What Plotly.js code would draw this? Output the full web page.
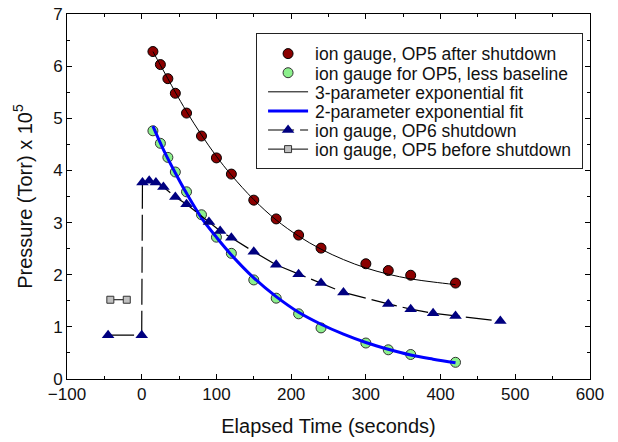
<!DOCTYPE html>
<html>
<head>
<meta charset="utf-8">
<script src="https://cdn.plot.ly/plotly-3.0.1.min.js"></script>
<style>html,body{margin:0;padding:0;background:#fff;}#chart{width:618px;height:442px;}</style>
</head>
<body>
<div id="chart"></div>
<script>
// OP5 after shutdown (ion gauge)
const afterX = [15, 25, 35, 45, 60, 80, 100, 120, 150, 180, 210, 240, 300, 330, 360, 420];
const afterY = [6.28, 6.03, 5.76, 5.48, 5.10, 4.66, 4.24, 3.93, 3.43, 3.07, 2.76, 2.51, 2.21, 2.08, 1.99, 1.84];
// OP5 less baseline
const lessX = [15, 25, 35, 45, 60, 80, 100, 120, 150, 180, 210, 240, 300, 330, 360, 420];
const lessY = [4.76, 4.52, 4.25, 3.97, 3.59, 3.15, 2.72, 2.41, 1.90, 1.55, 1.25, 0.98, 0.69, 0.56, 0.47, 0.32];
// 3-parameter fit curve
const fit3X = [15, 25, 35, 45, 60, 80, 100, 120, 150, 180, 210, 240, 270, 300, 330, 360, 390, 420];
const fit3Y = [6.28, 6.02, 5.76, 5.50, 5.13, 4.68, 4.27, 3.91, 3.44, 3.05, 2.74, 2.49, 2.29, 2.13, 2.01, 1.92, 1.86, 1.81];
// 2-parameter fit curve
const fit2X = [15, 30, 45, 60, 80, 100, 120, 150, 180, 210, 240, 270, 300, 330, 360, 390, 420];
const fit2Y = [4.85, 4.37, 3.95, 3.56, 3.09, 2.72, 2.38, 1.94, 1.58, 1.28, 1.05, 0.86, 0.70, 0.57, 0.46, 0.38, 0.31];
// OP6 shutdown
const op6X = [-45, 0, 1, 10, 19, 29, 45, 60, 90, 105, 120, 150, 180, 210, 240, 270, 330, 360, 390, 420, 480];
const op6Y = [0.84, 0.84, 3.77, 3.80, 3.77, 3.68, 3.49, 3.35, 3.01, 2.84, 2.71, 2.44, 2.19, 2.01, 1.84, 1.66, 1.44, 1.34, 1.26, 1.21, 1.11];
// OP5 before shutdown
const beforeX = [-42, -20];
const beforeY = [1.52, 1.52];

const FONT = 'Liberation Sans, Arial, sans-serif';

const traces = [
  {x: afterX, y: afterY, name: 'ion gauge, OP5 after shutdown', mode: 'markers', type: 'scatter', legendrank: 1,
   marker: {symbol: 'circle', size: 10, color: '#8b0000', line: {color: '#000', width: 1}}},
  {x: lessX, y: lessY, name: 'ion gauge for OP5, less baseline', mode: 'markers', type: 'scatter', legendrank: 2,
   marker: {symbol: 'circle', size: 10, color: '#8cf08c', line: {color: '#333', width: 1}}},
  {x: beforeX, y: beforeY, name: 'ion gauge, OP5 before shutdown', mode: 'lines+markers', type: 'scatter', legendrank: 6,
   line: {color: '#000', width: 1}, marker: {symbol: 'square', size: 7, color: '#c0c0c0', line: {color: '#333', width: 1}}},
  {x: fit3X, y: fit3Y, name: '3-parameter exponential fit', mode: 'lines', type: 'scatter', legendrank: 3,
   line: {color: '#000', width: 1, shape: 'spline'}},
  {x: fit2X, y: fit2Y, name: '2-parameter exponential fit', mode: 'lines', type: 'scatter', legendrank: 4,
   line: {color: '#0000ff', width: 3, shape: 'spline'}},
  {x: op6X, y: op6Y, name: 'ion gauge, OP6 shutdown', mode: 'lines+markers', type: 'scatter', legendrank: 5,
   line: {color: '#000', width: 1.2, dash: '26px,6px'}, marker: {symbol: 'triangle-up', size: 11, color: '#000080'}}
];

const axisCommon = {
  showgrid: false, zeroline: false, showline: true, linecolor: '#000', linewidth: 1,
  mirror: 'ticks', ticks: 'inside', ticklen: 5, tickwidth: 1, tickcolor: '#000',
  tickfont: {family: FONT, size: 17, color: '#111'},
};

const layout = {
  width: 618, height: 442,
  margin: {l: 67, r: 28, t: 14, b: 63},
  paper_bgcolor: '#fff', plot_bgcolor: '#fff',
  font: {family: FONT, color: '#111'},
  showlegend: true,
  legend: {x: 0.3615, y: 0.949, xanchor: 'left', yanchor: 'top', bordercolor: '#222', borderwidth: 1,
           bgcolor: '#fff', font: {family: FONT, size: 17.5, color: '#111'}, tracegroupgap: 0},
  xaxis: Object.assign({}, axisCommon, {
    range: [-100, 600], tick0: 0, dtick: 100, tickmode: 'linear',
    minor: {dtick: 50, ticks: 'inside', ticklen: 3, tickcolor: '#000'},
    title: {text: 'Elapsed Time (seconds)', font: {family: FONT, size: 20, color: '#111'}, standoff: 15}
  }),
  yaxis: Object.assign({}, axisCommon, {
    range: [0, 7], tick0: 0, dtick: 1, tickmode: 'linear',
    minor: {dtick: 0.5, ticks: 'inside', ticklen: 3, tickcolor: '#000'},
    title: {text: 'Pressure (Torr) x 10<sup>5</sup>', font: {family: FONT, size: 20, color: '#111'}, standoff: 15}
  })
};

// compact legend layout to match the reference box (row pitch, symbol length, box size)
const LEG_ROW0 = 21, LEG_PITCH = 19.1, LEG_W = 326, LEG_H = 135.4;

Plotly.newPlot('chart', traces, layout, {displayModeBar: false, staticPlot: true}).then(gd => {
  const leg = gd.querySelector('.legend');
  if (!leg) return;
  const items = Array.from(leg.querySelectorAll('.traces')).map(g => {
    const m = /translate\(\s*([-\d.e]+)[ ,]+([-\d.e]+)\s*\)/.exec(g.getAttribute('transform') || '');
    return {g: g, x: m ? parseFloat(m[1]) : 0, y: m ? parseFloat(m[2]) : 0};
  }).sort((a, b) => a.y - b.y);
  items.forEach((it, i) => {
    it.g.setAttribute('transform', 'translate(' + it.x + ',' + (LEG_ROW0 + LEG_PITCH * i) + ')');
    const txt = it.g.querySelector('.legendtext');
    if (txt) txt.setAttribute('transform', 'translate(18,0)');
    const layers = it.g.querySelector('.layers');
    if (layers) layers.setAttribute('transform', 'translate(11,0)');
    it.g.querySelectorAll('.legendlines path').forEach(p => p.setAttribute('d', 'M0,0h40'));
  });
  const bg = leg.querySelector('.bg');
  if (bg) { bg.setAttribute('width', LEG_W); bg.setAttribute('height', LEG_H); }
  document.querySelectorAll('clipPath').forEach(cp => {
    if (/legend/.test(cp.id)) {
      const r = cp.querySelector('rect');
      if (r) { r.setAttribute('width', LEG_W); r.setAttribute('height', LEG_H); }
    }
  });
});
</script>
</body>
</html>
